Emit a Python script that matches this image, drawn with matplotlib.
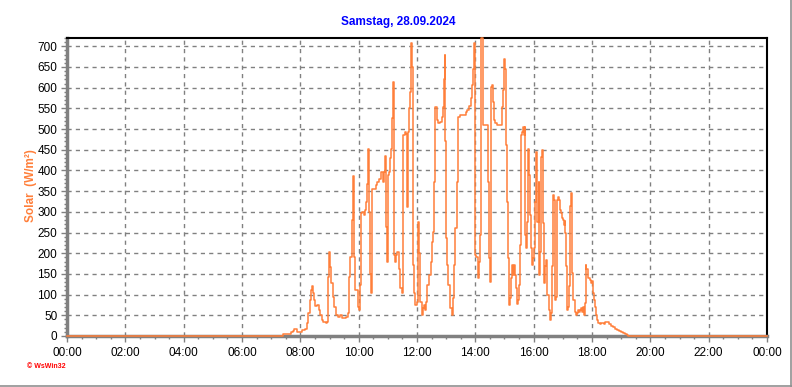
import numpy as np
import matplotlib
matplotlib.use("Agg")
from matplotlib import pyplot as plt
from matplotlib.lines import Line2D
from matplotlib.ticker import MultipleLocator, FuncFormatter

plt.rcParams['font.family'] = ['Liberation Sans', 'DejaVu Sans']

# Zeit in Stunden, Solarstrahlung in W/m²
hours = [0.0, 7.40, 7.42, 7.60, 7.68, 7.75, 7.78, 7.87, 7.96, 8.05, 8.16, 8.22, 8.27, 8.33,
         8.36, 8.40, 8.43, 8.47, 8.51, 8.58, 8.63, 8.67, 8.73, 8.79, 8.87, 8.92, 8.96, 8.99,
         9.03, 9.06, 9.11, 9.15, 9.22, 9.30, 9.36, 9.42, 9.50, 9.57, 9.62, 9.67, 9.71, 9.76,
         9.80, 9.82, 9.85, 9.89, 9.96, 10.02, 10.04, 10.08, 10.12, 10.17, 10.21, 10.26, 10.29,
         10.32, 10.35, 10.37, 10.39, 10.42, 10.45, 10.47, 10.54, 10.59, 10.64, 10.69, 10.76,
         10.83, 10.85, 10.88, 10.90, 10.92, 10.96, 10.99, 11.01, 11.04, 11.08, 11.11, 11.14,
         11.16, 11.18, 11.20, 11.22, 11.24, 11.29, 11.33, 11.37, 11.42, 11.47, 11.51, 11.53,
         11.59, 11.62, 11.64, 11.66, 11.68, 11.71, 11.75, 11.78, 11.81, 11.83, 11.85, 11.87,
         11.91, 11.94, 11.99, 12.02, 12.04, 12.07, 12.10, 12.16, 12.19, 12.24, 12.27, 12.31,
         12.35, 12.41, 12.47, 12.51, 12.56, 12.59, 12.63, 12.67, 12.72, 12.79, 12.86, 12.90,
         12.92, 12.95, 12.97, 12.99, 13.04, 13.08, 13.13, 13.19, 13.23, 13.28, 13.31, 13.36,
         13.39, 13.41, 13.47, 13.54, 13.61, 13.68, 13.73, 13.79, 13.84, 13.87, 13.91, 13.95,
         13.97, 13.98, 14.00, 14.04, 14.09, 14.13, 14.17, 14.19, 14.24, 14.27, 14.41, 14.43,
         14.47, 14.50, 14.53, 14.55, 14.58, 14.61, 14.65, 14.68, 14.73, 14.87, 14.90, 14.94,
         14.97, 15.00, 15.03, 15.06, 15.09, 15.11, 15.15, 15.17, 15.20, 15.23, 15.26, 15.29,
         15.32, 15.35, 15.38, 15.44, 15.47, 15.50, 15.54, 15.57, 15.61, 15.64, 15.67, 15.69,
         15.71, 15.74, 15.77, 15.80, 15.83, 15.87, 15.90, 15.94, 15.96, 16.00, 16.03, 16.07,
         16.10, 16.13, 16.17, 16.18, 16.22, 16.26, 16.30, 16.33, 16.36, 16.40, 16.43, 16.47,
         16.52, 16.56, 16.60, 16.63, 16.66, 16.70, 16.73, 16.76, 16.80, 16.83, 16.87, 16.90,
         16.93, 16.97, 17.00, 17.03, 17.06, 17.09, 17.12, 17.14, 17.17, 17.21, 17.24, 17.27,
         17.30, 17.33, 17.36, 17.40, 17.43, 17.46, 17.49, 17.53, 17.56, 17.59, 17.63, 17.66,
         17.69, 17.73, 17.76, 17.78, 17.81, 17.85, 17.88, 17.93, 17.97, 18.00, 18.04, 18.07,
         18.11, 18.14, 18.18, 18.22, 18.27, 18.31, 18.36, 18.40, 18.45, 18.49, 18.59, 18.66,
         18.73, 18.80, 18.86, 18.93, 19.00, 19.07, 19.14, 19.21, 19.25, 24.0]
solar = [0, 0, 5, 6, 10, 12, 18, 10, 9, 14, 17, 31, 55, 87,
         111, 121, 103, 87, 72, 75, 63, 51, 39, 34, 31, 35, 143, 204,
         167, 127, 95, 71, 51, 47, 51, 43, 43, 47, 55, 143, 192, 280,
         387, 387, 190, 111, 69, 62, 123, 297, 300, 292, 304, 324, 368,
         452, 452, 300, 151, 103, 103, 356, 356, 364, 372, 380, 396,
         396, 372, 396, 436, 264, 180, 330, 388, 396, 430, 452, 526,
         614, 614, 420, 196, 180, 196, 204, 163, 115, 103, 127, 485,
         493, 489, 312, 312, 493, 550, 590, 707, 707, 650, 420, 172,
         103, 75, 82, 230, 276, 200, 82, 51, 67, 75, 63, 82,
         123, 147, 180, 228, 252, 372, 554, 521, 515, 518, 529, 554,
         622, 678, 470, 236, 172, 123, 67, 51, 91, 172, 260, 372,
         466, 529, 533, 533, 535, 540, 545, 556, 574, 606, 646, 707,
         707, 461, 196, 192, 139, 180, 244, 720, 720, 511, 511, 372,
         188, 131, 348, 602, 606, 566, 521, 515, 511, 511, 554, 594,
         646, 670, 646, 461, 324, 188, 107, 75, 91, 139, 172, 147,
         172, 147, 115, 78, 86, 123, 220, 485, 493, 505, 485, 505,
         244, 212, 276, 453, 388, 292, 212, 172, 188, 212, 324, 445,
         437, 276, 372, 147, 204, 433, 449, 272, 128, 168, 184, 99,
         63, 39, 55, 168, 341, 329, 87, 95, 329, 337, 329, 305,
         297, 285, 281, 268, 277, 249, 168, 63, 71, 120, 313, 345,
         184, 152, 87, 71, 59, 51, 55, 63, 59, 63, 67, 59,
         71, 51, 79, 172, 163, 152, 140, 136, 128, 132, 103, 87,
         71, 51, 39, 31, 29, 32, 31, 29, 35, 33, 29, 24,
         21, 18, 14, 13, 10, 8, 5, 3, 0, 0]

title = "Samstag, 28.09.2024"
ylabel = "Solar  (W/m²)"

W, H = 792, 387
fig = plt.figure(figsize=(W / 100, H / 100), dpi=100)
fig.patch.set_facecolor('white')
ax = fig.add_axes([67 / W, 1 - 336 / H, 700 / W, 298 / H])

ax.plot(hours, solar, color='#FF7F3A', lw=1.1, drawstyle='steps-post',
        zorder=4, clip_on=False)

ax.set_xlim(0, 24)
ax.set_ylim(0, 720)
ax.xaxis.set_major_locator(MultipleLocator(2))
ax.xaxis.set_minor_locator(MultipleLocator(0.5))
ax.yaxis.set_major_locator(MultipleLocator(50))
ax.yaxis.set_minor_locator(MultipleLocator(10))
ax.xaxis.set_major_formatter(FuncFormatter(lambda v, p: "%02d:00" % (int(round(v)) % 24)))

ax.grid(True, which='major', color='#808080', linestyle=(0, (3, 3)), lw=1)
ax.tick_params(axis='both', which='major', labelsize=8.5, length=4, width=1, color='#808080')
ax.tick_params(axis='both', which='minor', length=2.5, width=1, color='#808080')
ax.tick_params(axis='x', pad=4)
ax.tick_params(axis='y', pad=3)

for s in ['left', 'bottom']:
    ax.spines[s].set_color('#808080')
    ax.spines[s].set_linewidth(2.5)
for s in ['top', 'right']:
    ax.spines[s].set_color('black')
    ax.spines[s].set_linewidth(1.5)

fig.text(398 / W, 1 - 22 / H, title, color='#0000FF', fontsize=8.5, fontweight='bold',
         ha='center', va='center')
fig.text(31 / W, 1 - 186 / H, ylabel, color='#FF7F3A', fontsize=8.5, fontweight='bold',
         rotation=90, ha='center', va='center')
fig.text(27 / W, 1 - 367 / H, "© WsWin32", color='red', fontsize=5, fontweight='bold',
         ha='left', va='center')

# Fensterrand rechts und unten
fig.add_artist(Line2D([790.5 / W, 790.5 / W], [0, 1], color='#909090', lw=1.2))
fig.add_artist(Line2D([0, 1], [1 - 385.5 / H, 1 - 385.5 / H], color='#909090', lw=1.2))

fig.savefig("out.png", dpi=100)
